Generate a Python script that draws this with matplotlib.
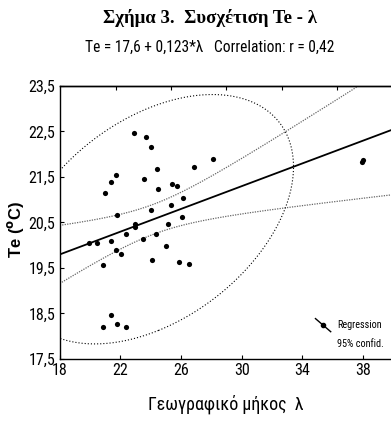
import os
import numpy as np
import matplotlib
matplotlib.use("Agg")
import matplotlib.pyplot as plt
from matplotlib import font_manager as fm
from matplotlib.font_manager import FontProperties

# ---- data ----
longitude = [19.93, 20.46, 20.83, 20.99, 21.36, 21.36, 21.69, 21.69, 21.76, 22.06,
             22.39, 22.92, 22.94, 22.94, 23.51, 23.58, 23.67, 24.00, 24.00, 24.06,
             24.33, 24.43, 24.50, 25.03, 25.12, 25.36, 25.42, 25.71, 25.84, 26.04,
             26.10, 26.50, 26.85, 28.09, 37.93, 38.01, 20.83, 21.36, 21.76, 22.39]
te = [20.06, 20.04, 19.56, 21.15, 21.40, 20.10, 21.55, 19.90, 20.67, 19.80,
      20.25, 22.46, 20.47, 20.40, 20.14, 21.46, 22.37, 22.15, 20.77, 19.68,
      20.25, 21.68, 21.23, 19.99, 20.46, 20.89, 21.35, 21.31, 19.63, 20.62,
      21.04, 19.59, 21.73, 21.89, 21.84, 21.87, 18.20, 18.47, 18.26, 18.20]
x_ticks = [18, 22, 26, 30, 34, 38]
top_ticks = [21.7, 25.35, 29.0, 32.65, 36.3]
y_ticks = [17.5, 18.5, 19.5, 20.5, 21.5, 22.5, 23.5]
title = "Σχήμα 3.  Συσχέτιση Te - λ"
subtitle = "Te = 17,6 + 0,123*λ   Correlation: r = 0,42"
xlabel = "Γεωγραφικό μήκος  λ"
ylabel = r"Te ($^{\mathbf{o}}$C)"


def find_font(patterns):
    files = [f.fname for f in fm.fontManager.ttflist]
    for p in patterns:
        for fn in files:
            if os.path.basename(fn).lower().startswith(p):
                return fn
    return None


narrow_file = find_font(["liberationsansnarrow-regular", "robotocondensed-regular",
                         "roboto_condensed-regular", "opensans_condensed-regular",
                         "opensanscondensed-regular", "opensans-condensedregular",
                         "dejavusanscondensed.ttf"])
serif_file = find_font(["liberationserif-bold."])
boldsans_file = find_font(["liberationsans-bold."])


def fp(fname, size, fallback_family="Liberation Sans", weight="normal"):
    if fname:
        return FontProperties(fname=fname, size=size)
    return FontProperties(family=fallback_family, size=size, weight=weight)


narrow_scale = 1.0 if narrow_file else 0.85

x = np.array(longitude)
y = np.array(te)
n = len(x)

fig = plt.figure(figsize=(3.91, 4.23), dpi=100)
ax = fig.add_axes([0.1527, 0.1513, 0.8473, 0.6454])
ax.set_xlim(18, 39.85)
ax.set_ylim(17.5, 23.5)

# regression and 95% confidence band
b1, b0 = np.polyfit(x, y, 1)
xs = np.linspace(18, 39.85, 300)
yhat = b0 + b1 * xs
resid = y - (b0 + b1 * x)
s = np.sqrt(np.sum(resid ** 2) / (n - 2))
sxx = np.sum((x - x.mean()) ** 2)
t = 2.024
half = t * s * np.sqrt(1 / n + (xs - x.mean()) ** 2 / sxx)
ax.plot(xs, yhat, color="black", lw=1.3, zorder=3)
ax.plot(xs, yhat + half, color="#666666", lw=0.9, ls=(0, (1, 1)), zorder=2)
ax.plot(xs, yhat - half, color="#666666", lw=0.9, ls=(0, (1, 1)), zorder=2)

# 95% ellipse
cov = np.cov(x, y)
vals, vecs = np.linalg.eigh(cov)
th = np.linspace(0, 2 * np.pi, 400)
circ = np.vstack([np.cos(th), np.sin(th)])
k = np.sqrt(5.991)
ell = vecs @ (np.sqrt(vals)[:, None] * circ) * k
ax.plot(ell[0] + x.mean(), ell[1] + y.mean(), color="black", lw=0.8,
        ls=(0, (1, 1.8)), zorder=2)

ax.scatter(x, y, s=14, color="black", zorder=4, linewidths=0)

ax.set_xticks(x_ticks)
ax.set_yticks(y_ticks)
tick_fp = fp(narrow_file, 11.5 * narrow_scale)
ax.set_xticklabels([str(v) for v in x_ticks], fontproperties=tick_fp)
ax.set_yticklabels([f"{v:.1f}".replace(".", ",") for v in y_ticks], fontproperties=tick_fp)
ax.tick_params(direction="in", length=3, width=0.8, pad=3)
ax.spines["right"].set_visible(False)
for sp in ["left", "bottom", "top"]:
    ax.spines[sp].set_linewidth(1.0)

sec = ax.secondary_xaxis("top")
sec.set_xticks(top_ticks)
sec.set_xticklabels([])
sec.tick_params(direction="in", length=3, width=0.8)
sec.spines["top"].set_linewidth(1.0)

ax.set_xlabel(xlabel, fontproperties=fp(narrow_file, 13 * narrow_scale), labelpad=12)
ax.set_ylabel(ylabel, fontproperties=fp(boldsans_file, 12, weight="bold"))
ax.yaxis.set_label_coords(-0.103, 0.475)

fig.text(0.537, 0.958, title, ha="center", va="center",
         fontproperties=fp(serif_file, 13.5, fallback_family="Liberation Serif", weight="bold"))
fig.text(0.537, 0.888, subtitle, ha="center", va="center",
         fontproperties=fp(narrow_file, 11.2 * narrow_scale))

# legend
lfp = fp(narrow_file, 7.3 * narrow_scale)
ax.plot([0.772, 0.818], [0.148, 0.1], transform=ax.transAxes, color="black", lw=1.0)
ax.plot([0.795], [0.124], transform=ax.transAxes, marker="o", ms=3, color="black")
ax.text(0.838, 0.124, "Regression", transform=ax.transAxes, fontproperties=lfp, va="center")
ax.text(0.838, 0.055, "95% confid.", transform=ax.transAxes, fontproperties=lfp, va="center")

fig.savefig("out.png", dpi=100)
